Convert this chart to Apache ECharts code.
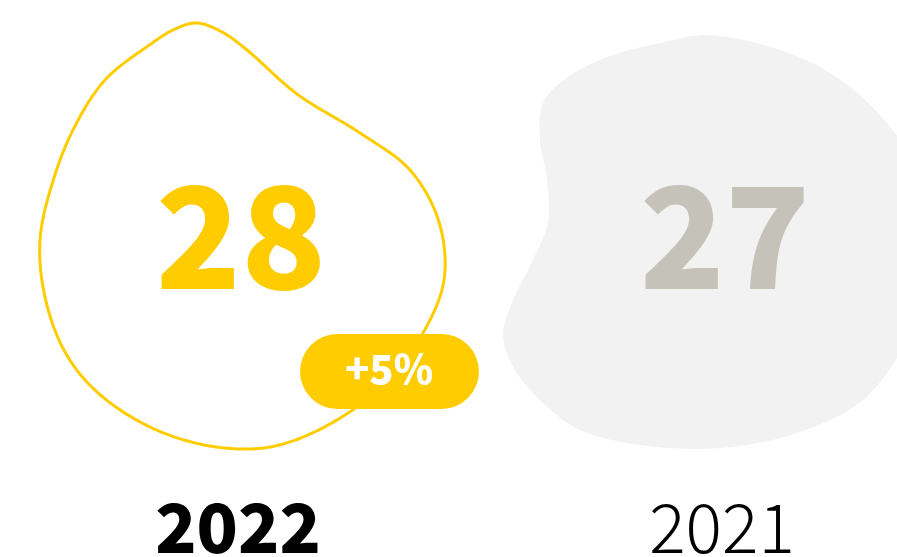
<!DOCTYPE html>
<html>
<head>
<meta charset="utf-8">
<script src="https://cdn.jsdelivr.net/npm/echarts@6/dist/echarts.min.js"></script>
<style>html,body{margin:0;padding:0;background:#fff}#c{width:897px;height:557px}</style>
</head>
<body>
<div id="c"></div>
<script>
// ---- data ----
var years = ['2022', '2021'];
var values = [28, 27];
var changes = ['+5%', ''];

// ---- decorative blob outlines (relative to number centre) ----
var blobCurrent = [[-44,-215],[-19,-206],[6,-188],[56,-144],[119,-105],[169,-68],[198,-16],[203,42],[182,95],[144,145],[89,186],[29,209],[-31,208],[-91,189],[-144,154],[-176,114],[-196,59],[-201,2],[-188,-57],[-167,-110],[-136,-158],[-93,-192],[-66,-209]];
var blobPrevious = [[-18,-203],[55,-188],[110,-162],[155,-123],[190,-73],[210,-13],[208,52],[180,107],[138,162],[72,195],[-5,210],[-85,207],[-145,192],[-180,167],[-210,132],[-222,97],[-212,62],[-193,24],[-177,-16],[-178,-58],[-185,-98],[-182,-135],[-160,-159],[-115,-182],[-65,-195]];

var YELLOW = '#FFCC00', GREY_TXT = '#C5C2B9', GREY_BLOB = '#F2F2F2';
var FONT = '"Noto Sans CJK JP"';

// closed centripetal Catmull-Rom spline sampled into a dense outline
function smoothClosed(pts, cx, cy, n) {
  var out = [], L = pts.length;
  function d(a, b) { return Math.pow(Math.hypot(b[0] - a[0], b[1] - a[1]), 0.5) || 1e-4; }
  function mix(a, b, wa, wb) { return [a[0] * wa + b[0] * wb, a[1] * wa + b[1] * wb]; }
  for (var i = 0; i < L; i++) {
    var P0 = pts[(i - 1 + L) % L], P1 = pts[i], P2 = pts[(i + 1) % L], P3 = pts[(i + 2) % L];
    var t0 = 0, t1 = t0 + d(P0, P1), t2 = t1 + d(P1, P2), t3 = t2 + d(P2, P3);
    for (var k = 0; k < n; k++) {
      var t = t1 + (t2 - t1) * k / n;
      var A1 = mix(P0, P1, (t1 - t) / (t1 - t0), (t - t0) / (t1 - t0));
      var A2 = mix(P1, P2, (t2 - t) / (t2 - t1), (t - t1) / (t2 - t1));
      var A3 = mix(P2, P3, (t3 - t) / (t3 - t2), (t - t2) / (t3 - t2));
      var B1 = mix(A1, A2, (t2 - t) / (t2 - t0), (t - t0) / (t2 - t0));
      var B2 = mix(A2, A3, (t3 - t) / (t3 - t1), (t - t1) / (t3 - t1));
      var C = mix(B1, B2, (t2 - t) / (t2 - t1), (t - t1) / (t2 - t1));
      out.push([cx + C[0], cy + C[1]]);
    }
  }
  return out;
}

var chart = echarts.init(document.getElementById('c'), null, {renderer: 'canvas'});
chart.setOption({
  animation: false,
  grid: {left: 241, right: 172, top: 0, bottom: 0},
  xAxis: {type: 'category', data: years, boundaryGap: false, show: false},
  yAxis: {type: 'value', min: 0, max: 557, inverse: true, show: false},
  series: [{
    type: 'custom',
    data: values.map(function (v, i) { return [i, v]; }),
    renderItem: function (params, api) {
      var i = api.value(0);
      var p = api.coord([i, 238]);
      var cx = p[0], cy = p[1];
      var cur = i === 0;
      var children = [];
      var pts = smoothClosed(cur ? blobCurrent : blobPrevious, cx, cy, 20);
      children.push({
        type: 'polygon',
        shape: {points: pts},
        style: cur ? {fill: 'none', stroke: YELLOW, lineWidth: 3, lineJoin: 'round'} : {fill: GREY_BLOB}
      });
      children.push({
        type: 'text',
        x: cx, y: cy - 2,
        style: {
          text: String(values[i]),
          fill: cur ? YELLOW : GREY_TXT,
          font: '900 140px ' + FONT,
          align: 'center', verticalAlign: 'middle'
        }
      });
      if (changes[i]) {
        children.push({
          type: 'rect',
          shape: {x: cx + 59, y: cy + 96, width: 179, height: 75, r: 37.5},
          style: {fill: YELLOW}
        });
        children.push({
          type: 'text',
          x: cx + 148, y: cy + 131,
          style: {
            text: changes[i], fill: '#fff',
            font: '900 40px ' + FONT,
            align: 'center', verticalAlign: 'middle'
          }
        });
      }
      children.push({
        type: 'text',
        x: cx - 3, y: 527,
        style: {
          text: years[i], fill: '#000',
          font: (cur ? '900' : '300') + ' 68px ' + FONT,
          align: 'center', verticalAlign: 'middle'
        }
      });
      return {type: 'group', children: children};
    }
  }]
});
</script>
</body>
</html>
